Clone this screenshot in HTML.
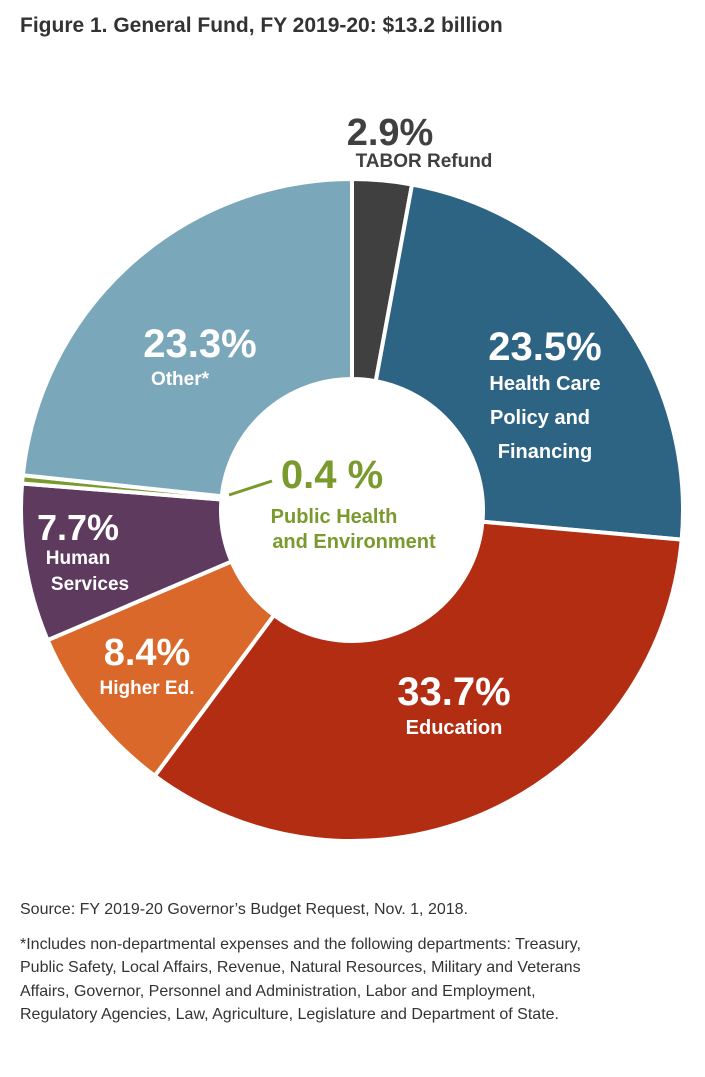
<!DOCTYPE html>
<html><head><meta charset="utf-8"><style>
body{margin:0;width:705px;height:1077px;background:#fff;font-family:"Liberation Sans",sans-serif;overflow:hidden;position:relative}
.t{position:absolute;white-space:nowrap}
</style></head><body>
<div class="t" style="left:20px;top:14px;font-size:21px;font-weight:bold;color:#333">Figure 1. General Fund, FY 2019-20: $13.2 billion</div>
<svg id="chart" width="705" height="880" style="position:absolute;left:0;top:0">
<g id="slices"></g>
<line x1="229" y1="495" x2="272" y2="481" stroke="#7a9a2e" stroke-width="3"/>
<g font-family="Liberation Sans, sans-serif" font-weight="bold">
<text x="390" y="145" text-anchor="middle" font-size="38" fill="#404041">2.9%</text>
<text x="424" y="167" text-anchor="middle" font-size="19" fill="#404041">TABOR Refund</text>
<text x="545" y="360" text-anchor="middle" font-size="40" fill="#fff">23.5%</text>
<text x="545" y="390" text-anchor="middle" font-size="20" fill="#fff">Health Care</text>
<text x="540" y="424" text-anchor="middle" font-size="20" fill="#fff">Policy and</text>
<text x="545" y="458" text-anchor="middle" font-size="20" fill="#fff">Financing</text>
<text x="454" y="705" text-anchor="middle" font-size="40" fill="#fff">33.7%</text>
<text x="454" y="734" text-anchor="middle" font-size="20" fill="#fff">Education</text>
<text x="147" y="665" text-anchor="middle" font-size="38" fill="#fff">8.4%</text>
<text x="147" y="694" text-anchor="middle" font-size="19" fill="#fff">Higher Ed.</text>
<text x="78" y="540" text-anchor="middle" font-size="36" fill="#fff">7.7%</text>
<text x="78" y="564" text-anchor="middle" font-size="19" fill="#fff">Human</text>
<text x="90" y="590" text-anchor="middle" font-size="19" fill="#fff">Services</text>
<text x="200" y="357" text-anchor="middle" font-size="40" fill="#fff">23.3%</text>
<text x="180" y="385" text-anchor="middle" font-size="19" fill="#fff">Other*</text>
<text x="332" y="488" text-anchor="middle" font-size="40" fill="#7a9a2e">0.4 %</text>
<text x="334" y="523" text-anchor="middle" font-size="20" fill="#7a9a2e">Public Health</text>
<text x="354" y="548" text-anchor="middle" font-size="20" fill="#7a9a2e">and Environment</text>
</g>
</svg>
<div class="t" style="left:20px;top:901px;font-size:16px;color:#333">Source: FY 2019-20 Governor’s Budget Request, Nov. 1, 2018.</div>
<div class="t" style="left:20px;top:933px;font-size:16px;line-height:23.3px;color:#333">*Includes non-departmental expenses and the following departments: Treasury,<br>Public Safety, Local Affairs, Revenue, Natural Resources, Military and Veterans<br>Affairs, Governor, Personnel and Administration, Labor and Employment,<br>Regulatory Agencies, Law, Agriculture, Legislature and Department of State.</div>
<script>
const categories=["TABOR Refund","Health Care Policy and Financing","Education","Higher Ed.","Human Services","Public Health and Environment","Other"];
const values=[2.9,23.5,33.7,8.4,7.7,0.4,23.3];
const colors=["#404041","#2e6483","#b32d12","#d9682a","#5e3a5e","#7a9a2e","#7ba7bb"];
const cx=352,cy=510,R=331,r=131;
const g=document.getElementById('slices');
const total=values.reduce((a,b)=>a+b,0);
function pt(a,rad){return [cx+rad*Math.sin(a),cy-rad*Math.cos(a)];}
let a0=0;
values.forEach((v,i)=>{
 const a1=a0+v/total*2*Math.PI;
 const lg=(a1-a0)>Math.PI?1:0;
 const p1=pt(a0,R),p2=pt(a1,R),p3=pt(a1,r),p4=pt(a0,r);
 const p=document.createElementNS('http://www.w3.org/2000/svg','path');
 p.setAttribute('d',`M${p1[0]},${p1[1]}A${R},${R} 0 ${lg} 1 ${p2[0]},${p2[1]}L${p3[0]},${p3[1]}A${r},${r} 0 ${lg} 0 ${p4[0]},${p4[1]}Z`);
 p.setAttribute('fill',colors[i]);
 p.setAttribute('stroke','#fff');
 p.setAttribute('stroke-width','4');
 
 
 g.appendChild(p);
 a0=a1;
});
</script>
</body></html>
